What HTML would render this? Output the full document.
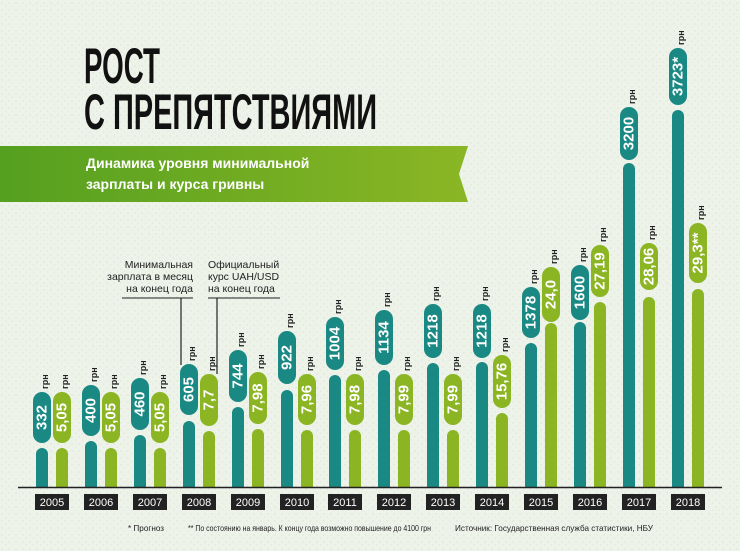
<!DOCTYPE html>
<html><head><meta charset="utf-8"><style>
body{margin:0;width:740px;height:551px;overflow:hidden;background:#eef3ea;}
svg{display:block;font-family:"Liberation Sans",sans-serif;}
.v{fill:#fff;font-weight:bold;font-size:15px;text-anchor:middle;dominant-baseline:central;}
.g{fill:#222;font-weight:bold;font-size:9px;}
.y{fill:#fff;font-size:11px;text-anchor:middle;}
.f{fill:#222;font-size:8.5px;}
</style></head><body>
<svg width="740" height="551" viewBox="0 0 740 551">
<defs>
<pattern id="dots" width="7" height="7" patternUnits="userSpaceOnUse"><circle cx="2" cy="3" r="0.6" fill="#cdd8c6"/><circle cx="5.5" cy="6" r="0.5" fill="#d4ddcd"/></pattern>
<linearGradient id="ban" x1="0" x2="1"><stop offset="0" stop-color="#55a020"/><stop offset="1" stop-color="#8ab624"/></linearGradient>
</defs>
<rect width="740" height="551" fill="#eef3ea"/>
<rect width="740" height="551" fill="url(#dots)"/>
<text x="84" y="83" font-size="50" font-weight="bold" fill="#111" textLength="76" lengthAdjust="spacingAndGlyphs">РОСТ</text>
<text x="84" y="129" font-size="50" font-weight="bold" fill="#111" textLength="293" lengthAdjust="spacingAndGlyphs">С ПРЕПЯТСТВИЯМИ</text>
<polygon points="0,146 468,146 459,174 468,202 0,202" fill="url(#ban)"/>
<text x="86" y="168" fill="#fff" font-size="14" font-weight="bold">Динамика уровня минимальной</text>
<text x="86" y="189" fill="#fff" font-size="14" font-weight="bold">зарплаты и курса гривны</text>
<g font-size="10.5" fill="#222">
<text x="193" y="268" text-anchor="end">Минимальная</text>
<text x="193" y="280" text-anchor="end">зарплата в месяц</text>
<text x="193" y="292" text-anchor="end">на конец года</text>
<text x="208" y="268">Официальный</text>
<text x="208" y="280">курс UAH/USD</text>
<text x="208" y="292">на конец года</text>
</g>
<line x1="181" y1="298" x2="181" y2="365" stroke="#222" stroke-width="1.2"/>
<line x1="217" y1="298" x2="217" y2="374" stroke="#222" stroke-width="1.2"/>
<line x1="122" y1="298" x2="193" y2="298" stroke="#222" stroke-width="1"/>
<line x1="208" y1="298" x2="280" y2="298" stroke="#222" stroke-width="1"/>

<g fill="#1a8984">
<path d="M36,487V454a6,6 0 0 1 12,0V487Z"/><rect x="33" y="392" width="18" height="51" rx="9"/>
<path d="M85,487V447a6,6 0 0 1 12,0V487Z"/><rect x="82" y="385" width="18" height="51" rx="9"/>
<path d="M134,487V441a6,6 0 0 1 12,0V487Z"/><rect x="131" y="378" width="18" height="52" rx="9"/>
<path d="M183,487V427a6,6 0 0 1 12,0V487Z"/><rect x="180" y="364" width="18" height="51" rx="9"/>
<path d="M232,487V413a6,6 0 0 1 12,0V487Z"/><rect x="229" y="350" width="18" height="52" rx="9"/>
<path d="M281,487V396a6,6 0 0 1 12,0V487Z"/><rect x="278" y="331" width="18" height="53" rx="9"/>
<path d="M329,487V381a6,6 0 0 1 12,0V487Z"/><rect x="326" y="317" width="18" height="53" rx="9"/>
<path d="M378,487V376a6,6 0 0 1 12,0V487Z"/><rect x="375" y="310" width="18" height="55" rx="9"/>
<path d="M427,487V369a6,6 0 0 1 12,0V487Z"/><rect x="424" y="304" width="18" height="54" rx="9"/>
<path d="M476,487V368a6,6 0 0 1 12,0V487Z"/><rect x="473" y="304" width="18" height="54" rx="9"/>
<path d="M525,487V349a6,6 0 0 1 12,0V487Z"/><rect x="522" y="287" width="18" height="51" rx="9"/>
<path d="M574,487V328a6,6 0 0 1 12,0V487Z"/><rect x="571" y="265" width="18" height="55" rx="9"/>
<path d="M623,487V169a6,6 0 0 1 12,0V487Z"/><rect x="620" y="107" width="18" height="53" rx="9"/>
<path d="M672,487V116a6,6 0 0 1 12,0V487Z"/><rect x="669" y="48" width="18" height="57" rx="9"/>
</g>
<g fill="#8cb523">
<path d="M56,487V454a6,6 0 0 1 12,0V487Z"/><rect x="53" y="392" width="18" height="51" rx="9"/>
<path d="M105,487V454a6,6 0 0 1 12,0V487Z"/><rect x="102" y="392" width="18" height="51" rx="9"/>
<path d="M154,487V454a6,6 0 0 1 12,0V487Z"/><rect x="151" y="392" width="18" height="51" rx="9"/>
<path d="M203,487V437a6,6 0 0 1 12,0V487Z"/><rect x="200" y="374" width="18" height="52" rx="9"/>
<path d="M252,487V435a6,6 0 0 1 12,0V487Z"/><rect x="249" y="372" width="18" height="52" rx="9"/>
<path d="M301,487V436a6,6 0 0 1 12,0V487Z"/><rect x="298" y="374" width="18" height="51" rx="9"/>
<path d="M349,487V436a6,6 0 0 1 12,0V487Z"/><rect x="346" y="374" width="18" height="51" rx="9"/>
<path d="M398,487V436a6,6 0 0 1 12,0V487Z"/><rect x="395" y="374" width="18" height="51" rx="9"/>
<path d="M447,487V436a6,6 0 0 1 12,0V487Z"/><rect x="444" y="374" width="18" height="51" rx="9"/>
<path d="M496,487V419a6,6 0 0 1 12,0V487Z"/><rect x="493" y="355" width="18" height="53" rx="9"/>
<path d="M545,487V329a6,6 0 0 1 12,0V487Z"/><rect x="542" y="267" width="18" height="55" rx="9"/>
<path d="M594,487V308a6,6 0 0 1 12,0V487Z"/><rect x="591" y="245" width="18" height="52" rx="9"/>
<path d="M643,487V303a6,6 0 0 1 12,0V487Z"/><rect x="640" y="243" width="18" height="47" rx="9"/>
<path d="M692,487V295a6,6 0 0 1 12,0V487Z"/><rect x="689" y="223" width="18" height="60" rx="9"/>
</g>
<g class="v">
<text transform="translate(42,417.5) rotate(-90)">332</text>
<text transform="translate(91,410.5) rotate(-90)">400</text>
<text transform="translate(140,404) rotate(-90)">460</text>
<text transform="translate(189,389.5) rotate(-90)">605</text>
<text transform="translate(238,376) rotate(-90)">744</text>
<text transform="translate(287,357.5) rotate(-90)">922</text>
<text transform="translate(335,343.5) rotate(-90)">1004</text>
<text transform="translate(384,337.5) rotate(-90)">1134</text>
<text transform="translate(433,331) rotate(-90)">1218</text>
<text transform="translate(482,331) rotate(-90)">1218</text>
<text transform="translate(531,312.5) rotate(-90)">1378</text>
<text transform="translate(580,292.5) rotate(-90)">1600</text>
<text transform="translate(629,133.5) rotate(-90)">3200</text>
<text transform="translate(678,76.5) rotate(-90)">3723*</text>
<text transform="translate(62,417.5) rotate(-90)">5,05</text>
<text transform="translate(111,417.5) rotate(-90)">5,05</text>
<text transform="translate(160,417.5) rotate(-90)">5,05</text>
<text transform="translate(209,400) rotate(-90)">7,7</text>
<text transform="translate(258,398) rotate(-90)">7,98</text>
<text transform="translate(307,399.5) rotate(-90)">7,96</text>
<text transform="translate(355,399.5) rotate(-90)">7,98</text>
<text transform="translate(404,399.5) rotate(-90)">7,99</text>
<text transform="translate(453,399.5) rotate(-90)">7,99</text>
<text transform="translate(502,381.5) rotate(-90)">15,76</text>
<text transform="translate(551,294.5) rotate(-90)">24,0</text>
<text transform="translate(600,271) rotate(-90)">27,19</text>
<text transform="translate(649,266.5) rotate(-90)">28,06</text>
<text transform="translate(698,253) rotate(-90)">29,3**</text>
</g>
<g class="g">
<text transform="translate(48,389) rotate(-90)">грн</text>
<text transform="translate(97,382) rotate(-90)">грн</text>
<text transform="translate(146,375) rotate(-90)">грн</text>
<text transform="translate(195,361) rotate(-90)">грн</text>
<text transform="translate(244,347) rotate(-90)">грн</text>
<text transform="translate(293,328) rotate(-90)">грн</text>
<text transform="translate(341,314) rotate(-90)">грн</text>
<text transform="translate(390,307) rotate(-90)">грн</text>
<text transform="translate(439,301) rotate(-90)">грн</text>
<text transform="translate(488,301) rotate(-90)">грн</text>
<text transform="translate(537,284) rotate(-90)">грн</text>
<text transform="translate(586,262) rotate(-90)">грн</text>
<text transform="translate(635,104) rotate(-90)">грн</text>
<text transform="translate(684,45) rotate(-90)">грн</text>
<text transform="translate(68,389) rotate(-90)">грн</text>
<text transform="translate(117,389) rotate(-90)">грн</text>
<text transform="translate(166,389) rotate(-90)">грн</text>
<text transform="translate(215,371) rotate(-90)">грн</text>
<text transform="translate(264,369) rotate(-90)">грн</text>
<text transform="translate(313,371) rotate(-90)">грн</text>
<text transform="translate(361,371) rotate(-90)">грн</text>
<text transform="translate(410,371) rotate(-90)">грн</text>
<text transform="translate(459,371) rotate(-90)">грн</text>
<text transform="translate(508,352) rotate(-90)">грн</text>
<text transform="translate(557,264) rotate(-90)">грн</text>
<text transform="translate(606,242) rotate(-90)">грн</text>
<text transform="translate(655,240) rotate(-90)">грн</text>
<text transform="translate(704,220) rotate(-90)">грн</text>
</g>
<line x1="18" y1="487.5" x2="722" y2="487.5" stroke="#222" stroke-width="1.5"/>
<g fill="#222">
<rect x="35" y="494" width="34" height="16"/><rect x="84" y="494" width="34" height="16"/><rect x="133" y="494" width="34" height="16"/><rect x="182" y="494" width="34" height="16"/><rect x="231" y="494" width="34" height="16"/><rect x="280" y="494" width="34" height="16"/><rect x="328" y="494" width="34" height="16"/><rect x="377" y="494" width="34" height="16"/><rect x="426" y="494" width="34" height="16"/><rect x="475" y="494" width="34" height="16"/><rect x="524" y="494" width="34" height="16"/><rect x="573" y="494" width="34" height="16"/><rect x="622" y="494" width="34" height="16"/><rect x="671" y="494" width="34" height="16"/>
</g>
<g class="y">
<text x="52" y="506">2005</text><text x="101" y="506">2006</text><text x="150" y="506">2007</text><text x="199" y="506">2008</text><text x="248" y="506">2009</text><text x="297" y="506">2010</text><text x="345" y="506">2011</text><text x="394" y="506">2012</text><text x="443" y="506">2013</text><text x="492" y="506">2014</text><text x="541" y="506">2015</text><text x="590" y="506">2016</text><text x="639" y="506">2017</text><text x="688" y="506">2018</text>
</g>
<text class="f" x="128" y="531" textLength="36" lengthAdjust="spacingAndGlyphs">* Прогноз</text>
<text class="f" x="188" y="531" textLength="243" lengthAdjust="spacingAndGlyphs">** По состоянию на январь. К концу года возможно повышение до 4100 грн</text>
<text class="f" x="455" y="531" textLength="198" lengthAdjust="spacingAndGlyphs">Источник: Государственная служба статистики, НБУ</text>
</svg>
</body></html>
